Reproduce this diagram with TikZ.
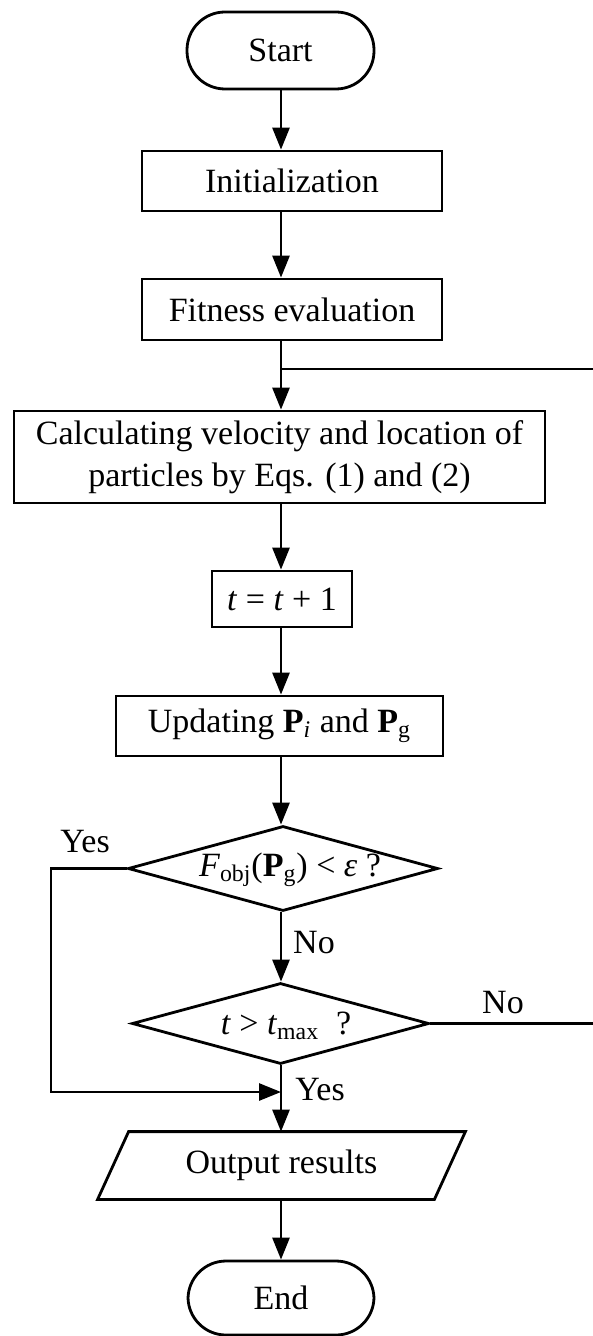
\documentclass[tikz,border=0pt]{standalone}
\usepackage{fontspec}
\setmainfont{Liberation Serif}
\usetikzlibrary{arrows.meta,shapes.geometric}
\begin{document}
\begin{tikzpicture}[x=0.5pt,y=-0.5pt, line width=1.4pt,
  every node/.style={font=\fontsize{17pt}{21pt}\selectfont},
  box/.style={draw, rectangle, inner sep=0pt, align=center},
  term/.style={draw, rectangle, rounded corners=19pt, inner sep=0pt},
  dia/.style={draw, diamond, inner sep=0pt},
  plain/.style={inner sep=0pt},
  arr/.style={-{Triangle[length=11pt,width=8.5pt]}}]
\useasboundingbox (0,0) rectangle (593,1336);
\coordinate (ax) at (281,0);
% nodes
\node[term, minimum width=93.5pt, minimum height=38.5pt] (start) at (280.5,50.5) {Start};
\node[box, minimum width=150pt, minimum height=30pt] (init) at (292,181) {Initialization};
\node[box, minimum width=150pt, minimum height=30.5pt] (fit) at (292,309.5) {Fitness evaluation};
\node[box, minimum width=265.5pt, minimum height=46pt] (calc) at (279.5,457) {Calculating velocity and location of\\particles by Eqs. (1) and (2)};
\node[box, minimum width=70pt, minimum height=28pt] (tb) at (282,599) {\textit{t} = \textit{t} + 1};
\node[box, minimum width=163.5pt, minimum height=30pt] (upd) at (279.5,726) {Updating \textbf{P}\textsubscript{\textit{i}} and \textbf{P}\textsubscript{g}};
\node[dia, minimum width=155pt, minimum height=42.5pt] (d1) at (283,868.5) {};
\node[plain] (d1t) at (290,870) {\textit{F}\textsubscript{obj}(\textbf{P}\textsubscript{g}) < \textit{ε} ?};
\node[dia, minimum width=148.5pt, minimum height=40.5pt] (d2) at (280.5,1023.5) {};
\node[plain] (d2t) at (286,1026) {\textit{t} > \textit{t}\textsubscript{max}\ \ ?};
\node[plain, minimum width=167pt, minimum height=32.5pt] (out) at (281.5,1165.5) {Output results};
\draw ([xshift=7.75pt]out.north west) -- ([xshift=7.75pt]out.north east)
  -- ([xshift=-7.75pt]out.south east) -- ([xshift=-7.75pt]out.south west) -- cycle;
\node[term, minimum width=93pt, minimum height=37pt] (end) at (281,1298) {End};
% labels
\node[plain] (yes1) at (85,842) {Yes};
\node[plain] (no1) at (314,943) {No};
\node[plain] (no2) at (503,1003) {No};
\node[plain] (yes2) at (320,1090) {Yes};
% connectors
\coordinate (junc) at (281,369);
\coordinate (yl) at (51,1092);
\coordinate (yj) at (281,1092);
\coordinate (rr) at (600,1023.5);
\draw[arr] (ax |- start.south) -- (ax |- init.north);
\draw[arr] (ax |- init.south) -- (ax |- fit.north);
\draw[arr] (ax |- fit.south) -- (ax |- calc.north);
\draw[arr] (ax |- calc.south) -- (ax |- tb.north);
\draw[arr] (ax |- tb.south) -- (ax |- upd.north);
\draw[arr] (ax |- upd.south) -- (ax |- d1.north);
\draw[arr] (ax |- d1.south) -- (ax |- d2.north);
\draw[arr] (ax |- d2.south) -- (ax |- out.north);
\draw[arr] (ax |- out.south) -- (ax |- end.north);
\draw[arr] (d1.west) -| (yl) -- (yj);
\draw (d2.east) -- (rr) |- (junc);
\end{tikzpicture}
\end{document}
